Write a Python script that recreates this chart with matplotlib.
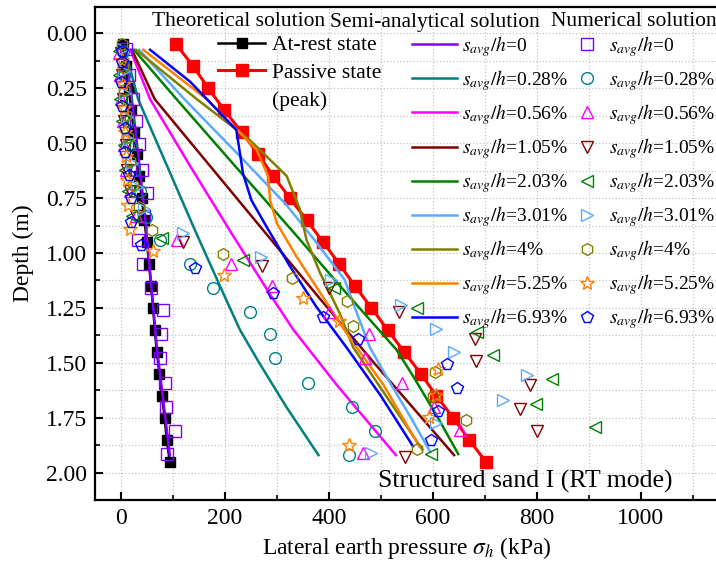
import matplotlib
matplotlib.use('Agg')
import matplotlib.pyplot as plt
from matplotlib.lines import Line2D
from matplotlib.ticker import MultipleLocator, FormatStrFormatter

plt.rcParams['font.family'] = 'Liberation Serif'
plt.rcParams['mathtext.fontset'] = 'stix'

# ---- theoretical solution (depth in m, sigma_h in kPa)
theo_depth = [0.05, 0.15, 0.25, 0.35, 0.45, 0.55, 0.65, 0.75, 0.85, 0.95,
              1.05, 1.15, 1.25, 1.35, 1.45, 1.55, 1.65, 1.75, 1.85, 1.95]
rest_x = [3, 9, 15, 20, 25, 30, 35, 40, 45, 50, 54, 58, 62, 65, 69, 74, 79, 84, 88, 94]
passive_x = [106, 139, 168, 199, 232, 264, 293, 325, 357, 389,
             420, 450, 482, 513, 545, 577, 607, 639, 670, 702]

# ---- semi-analytical solution
ratios = ['0', '0.28%', '0.56%', '1.05%', '2.03%', '3.01%', '4%', '5.25%', '6.93%']
colors = ['#8000ff', '#008080', '#ff00ff', '#800000', '#008000',
          '#5aaaff', '#808000', '#ff8000', '#0000ff']
markers = ['s', 'o', '^', 'v', '<', '>', 'h', '*', 'p']

ana_d_0 = [0.075, 0.3, 0.8, 1.43, 1.92]
ana_x_0 = [8, 21, 45, 69, 94]
ana_d_028 = [0.075, 0.3, 0.6, 0.9, 1.2, 1.35, 1.5, 1.7, 1.92]
ana_x_028 = [8, 33, 88, 143, 200, 229, 266, 318, 380]
ana_d_056 = [0.075, 0.3, 0.6, 0.9, 1.2, 1.35, 1.6, 1.92]
ana_x_056 = [18, 56, 132, 210, 290, 332, 415, 529]
ana_d_105 = [0.075, 0.3, 0.6, 0.9, 1.2, 1.5, 1.92]
ana_x_105 = [21, 65, 170, 275, 380, 487, 641]
ana_d_203 = [0.075, 0.3, 0.6, 0.9, 1.2, 1.44, 1.56, 1.75, 1.915]
ana_x_203 = [25, 107, 218, 330, 440, 530, 562, 610, 649]
ana_d_301 = [0.075, 0.3, 0.55, 0.78, 0.94, 1.12, 1.28, 1.43, 1.6, 1.75, 1.905]
ana_x_301 = [35, 122, 225, 318, 372, 430, 455, 479, 520, 558, 595]
ana_d_4 = [0.075, 0.3, 0.486, 0.65, 0.8, 0.94, 1.09, 1.275, 1.43, 1.65, 1.895]
ana_x_4 = [29, 146, 248, 319, 344, 357, 383, 421, 447, 510, 580]
ana_d_525 = [0.075, 0.3, 0.53, 0.65, 0.76, 0.865, 1.017, 1.18, 1.365, 1.6, 1.88]
ana_x_525 = [43, 165, 261, 283, 287, 300, 338, 383, 434, 505, 574]
ana_d_693 = [0.075, 0.22, 0.425, 0.44, 0.64, 0.76, 0.88, 1.06, 1.245, 1.43, 1.65, 1.88]
ana_x_693 = [56, 133, 216, 222, 235, 251, 280, 325, 376, 434, 500, 562]

# ---- numerical solution
num_d_0 = [0.07, 0.19, 0.30, 0.40, 0.505, 0.62, 0.725, 0.83, 0.94, 1.05, 1.16, 1.26, 1.37, 1.48, 1.59, 1.70, 1.81, 1.915]
num_x_0 = [10, 16, 23, 29, 35, 40, 51, 45, 32, 43, 57, 81, 77, 75, 85, 87, 104, 88]
num_d_028 = [0.08, 0.19, 0.30, 0.40, 0.51, 0.62, 0.72, 0.835, 0.94, 1.05, 1.16, 1.27, 1.37, 1.48, 1.59, 1.70, 1.81, 1.92]
num_x_028 = [4, 6, 9, 13, 18, 26, 37, 49, 75, 133, 177, 248, 287, 296, 360, 444, 489, 439]
num_d_056 = [0.09, 0.19, 0.30, 0.40, 0.51, 0.62, 0.72, 0.83, 0.94, 1.05, 1.15, 1.27, 1.37, 1.48, 1.59, 1.70, 1.805, 1.91]
num_x_056 = [-3, -2, 0, 3, 6, 10, 18, 28, 107, 211, 290, 400, 478, 469, 540, 602, 652, 466]
num_d_105 = [0.09, 0.19, 0.30, 0.40, 0.51, 0.62, 0.72, 0.83, 0.95, 1.06, 1.16, 1.27, 1.39, 1.49, 1.60, 1.71, 1.81, 1.93]
num_x_105 = [0, 1, 3, 6, 9, 12, 18, 28, 120, 271, 400, 535, 681, 684, 787, 768, 801, 546]
num_d_203 = [0.08, 0.19, 0.30, 0.40, 0.51, 0.62, 0.72, 0.83, 0.93, 1.03, 1.16, 1.25, 1.36, 1.465, 1.575, 1.687, 1.79, 1.915]
num_x_203 = [-4, -3, -1, 2, 5, 8, 14, 22, 78, 235, 409, 569, 686, 716, 829, 799, 912, 596]
num_d_301 = [0.07, 0.17, 0.27, 0.38, 0.48, 0.59, 0.70, 0.80, 0.91, 1.017, 1.123, 1.237, 1.344, 1.45, 1.555, 1.67, 1.775, 1.91]
num_x_301 = [3, 5, 8, 12, 16, 22, 30, 45, 119, 269, 405, 538, 607, 641, 781, 736, 607, 482]
num_d_4 = [0.05, 0.155, 0.26, 0.37, 0.47, 0.58, 0.69, 0.79, 0.895, 1.005, 1.115, 1.22, 1.33, 1.54, 1.65, 1.76, 1.89]
num_x_4 = [2, 3, 6, 9, 13, 18, 24, 34, 59, 196, 330, 434, 446, 604, 600, 664, 569]
num_d_525 = [0.12, 0.23, 0.34, 0.45, 0.56, 0.67, 0.78, 0.89, 0.99, 1.10, 1.206, 1.31, 1.53, 1.647, 1.745, 1.874]
num_x_525 = [2, 4, 6, 8, 10, 12, 13, 17, 62, 198, 351, 420, 611, 606, 593, 439]
num_d_693 = [0.08, 0.13, 0.22, 0.33, 0.43, 0.54, 0.645, 0.75, 0.86, 0.963, 1.07, 1.18, 1.29, 1.39, 1.505, 1.616, 1.72, 1.85]
num_x_693 = [1, 2, 0, 1, 8, 8, 16, 19, 19, 38, 142, 293, 388, 456, 627, 646, 611, 597]

ana_depths = [ana_d_0, ana_d_028, ana_d_056, ana_d_105, ana_d_203, ana_d_301, ana_d_4, ana_d_525, ana_d_693]
ana_values = [ana_x_0, ana_x_028, ana_x_056, ana_x_105, ana_x_203, ana_x_301, ana_x_4, ana_x_525, ana_x_693]
num_depths = [num_d_0, num_d_028, num_d_056, num_d_105, num_d_203, num_d_301, num_d_4, num_d_525, num_d_693]
num_values = [num_x_0, num_x_028, num_x_056, num_x_105, num_x_203, num_x_301, num_x_4, num_x_525, num_x_693]

W, H = 716, 567
fig = plt.figure(figsize=(W / 100, H / 100), dpi=100)
ax = fig.add_axes([95 / W, (H - 500) / H, 623.6 / W, (500 - 7.3) / H])

# theoretical curves
ax.plot(rest_x, theo_depth, color='black', lw=1.8, marker='s', ms=7, zorder=3)
ax.plot(passive_x, theo_depth, color='red', lw=2.2, marker='s', ms=8, zorder=3)

# semi-analytical lines
for d, x, c in zip(ana_depths, ana_values, colors):
    ax.plot(x, d, color=c, lw=1.8, zorder=4)

# numerical markers
for d, x, c, m in zip(num_depths, num_values, colors, markers):
    ms = 10 if m == '*' else 8.5
    ax.plot(x, d, ls='none', marker=m, ms=ms, mfc='none', mec=c, mew=1.0, zorder=5)

ax.set_xlim(-50, 1150)
ax.set_ylim(2.1242, -0.1183)
ax.xaxis.set_major_locator(MultipleLocator(200))
ax.xaxis.set_minor_locator(MultipleLocator(100))
ax.yaxis.set_major_locator(MultipleLocator(0.25))
ax.yaxis.set_minor_locator(MultipleLocator(0.125))
ax.yaxis.set_major_formatter(FormatStrFormatter('%.2f'))
ax.tick_params(which='major', direction='in', length=6, width=1.5, labelsize=17, pad=6)
ax.tick_params(which='minor', direction='in', length=3.5, width=1.2)
ax.set_axisbelow(True)
ax.grid(True, which='both', color='#c4c4c4', linestyle=':', linewidth=0.9)
for s in ax.spines.values():
    s.set_linewidth(1.6)

ax.set_xlabel(r'Lateral earth pressure $\sigma_h$ (kPa)', fontsize=17, labelpad=4)
ax.set_ylabel('Depth (m)', fontsize=17, labelpad=8)

ax.text(1062, 2.04, 'Structured sand I (RT mode)', fontsize=18.5, ha='right', va='center')

# headers
fs = 15.5
fig.text(152 / W, 1 - 22 / H, 'Theoretical solution', fontsize=fs, va='center')
fig.text(330 / W, 1 - 22 / H, 'Semi-analytical solution', fontsize=fs, va='center')
fig.text(551 / W, 1 - 22 / H, 'Numerical solution', fontsize=fs, va='center')

# legends
theo_handles = [Line2D([], [], color='black', lw=1.8, marker='s', ms=7),
                Line2D([], [], color='red', lw=2.2, marker='s', ms=8),
                Line2D([], [], color='none')]
leg1 = ax.legend(theo_handles, ['At-rest state', 'Passive state', '(peak)'],
                 loc='upper left', bbox_to_anchor=(218 / W, 1 - 35 / H),
                 bbox_transform=fig.transFigure, frameon=False, fontsize=fs,
                 handlelength=2.2, handletextpad=0.33, labelspacing=0.36, borderpad=0,
                 borderaxespad=0)
ax.add_artist(leg1)

lfs = 14
labels = [r'$s_{avg}/h$=' + r for r in ratios]
ana_handles = [Line2D([], [], color=c, lw=1.8) for c in colors]
leg2 = ax.legend(ana_handles, labels, loc='upper left',
                 bbox_to_anchor=(412 / W, 1 - 34 / H), bbox_transform=fig.transFigure,
                 frameon=False, fontsize=lfs, handlelength=2.3, handletextpad=0.26,
                 labelspacing=0.47, borderpad=0, borderaxespad=0)
ax.add_artist(leg2)

num_handles = [Line2D([], [], ls='none', marker=m, ms=(10 if m == '*' else 8.5), mfc='none', mec=c, mew=1.0)
               for c, m in zip(colors, markers)]
ax.legend(num_handles, labels, loc='upper left',
          bbox_to_anchor=(577 / W, 1 - 34 / H), bbox_transform=fig.transFigure,
          frameon=False, fontsize=lfs, handlelength=1.0, handletextpad=0.63,
          labelspacing=0.47, borderpad=0, borderaxespad=0)

fig.savefig('out.png', dpi=100)
